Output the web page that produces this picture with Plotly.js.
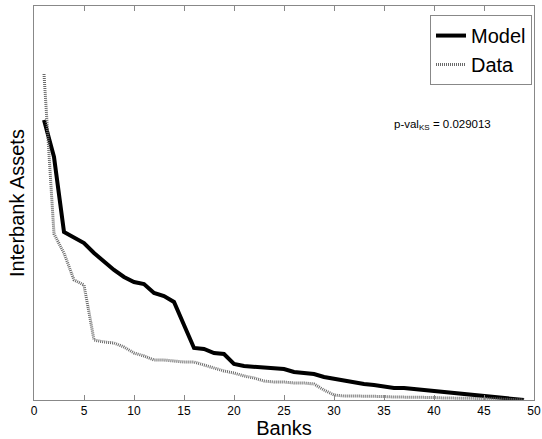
<!DOCTYPE html>
<html>
<head>
<meta charset="utf-8">
<script src="https://cdn.plot.ly/plotly-3.0.1.min.js"></script>
<style>html,body{margin:0;padding:0;background:#fff;}#chart{width:542px;height:439px;}</style>
</head>
<body>
<div id="chart"></div>
<script>
const banks = Array.from({length: 49}, (_, i) => i + 1);
const modelValues = [280, 243, 168, 162, 157, 147, 138, 130, 123, 118, 116, 107, 104, 98, 75, 52, 51, 47, 46, 36,
  34, 33, 33, 32, 31, 28, 27, 26, 23, 21, 19, 18, 16, 15, 13, 12, 12, 11, 10, 9,
  7, 7, 6, 4, 3, 3, 2, 1, 0];
const dataValues = [326, 166, 147, 120, 115, 60, 58, 57, 53, 47, 44, 40, 40, 39, 38, 38, 35, 32, 29, 27,
  24, 22, 19, 18, 18, 17, 17, 16, 10, 5, 4, 4, 4, 3.5, 3.5, 3, 3, 3, 2.7, 2.5,
  2, 2, 2, 1.8, 1.5, 1.2, 1, 0.5, 0];
const xTicks = [0, 5, 10, 15, 20, 25, 30, 35, 40, 45, 50];
const seriesNames = ['Model', 'Data'];
const pValText = 'p-val<sub>KS</sub> = 0.029013';

const traces = [
  {x: banks, y: modelValues, name: seriesNames[0], type: 'scatter', mode: 'lines',
   line: {color: '#000', width: 4}},
  {x: banks, y: dataValues, name: seriesNames[1], type: 'scatter', mode: 'lines',
   line: {color: '#6a6a6a', width: 3, dash: '1px,1px'}}
];

const layout = {
  width: 542, height: 439,
  margin: {l: 34, r: 8, t: 6, b: 39},
  paper_bgcolor: '#fff', plot_bgcolor: '#fff',
  font: {family: 'Liberation Sans, Arial, sans-serif', color: '#000'},
  showlegend: true,
  legend: {x: 0.996, y: 0.977, xanchor: 'right', yanchor: 'top',
    bordercolor: '#888', borderwidth: 1, bgcolor: '#fff',
    font: {size: 20, color: '#000'}, tracegroupgap: 0},
  xaxis: {range: [0, 50], tickvals: xTicks, ticktext: xTicks.map(String),
    ticks: 'inside', ticklen: 5, tickcolor: '#888', mirror: 'ticks',
    showline: true, linecolor: '#888', linewidth: 1, showgrid: false, zeroline: false,
    automargin: false, ticklabeloverflow: 'allow',
    tickfont: {size: 12, color: '#000'},
    title: {text: 'Banks', font: {size: 20, color: '#000'}, standoff: 3}},
  yaxis: {range: [0, 394], showticklabels: false, ticks: '', mirror: true,
    showline: true, linecolor: '#888', linewidth: 1, showgrid: false, zeroline: false,
    automargin: false,
    title: {text: 'Interbank Assets', font: {size: 20, color: '#000'}, standoff: 3}},
  annotations: [{xref: 'x', yref: 'y', x: 40.8, y: 275, text: pValText, showarrow: false,
    xanchor: 'center', yanchor: 'middle', font: {size: 11.5, color: '#000'}}]
};

Plotly.newPlot('chart', traces, layout, {displayModeBar: false, staticPlot: true});
</script>
</body>
</html>
